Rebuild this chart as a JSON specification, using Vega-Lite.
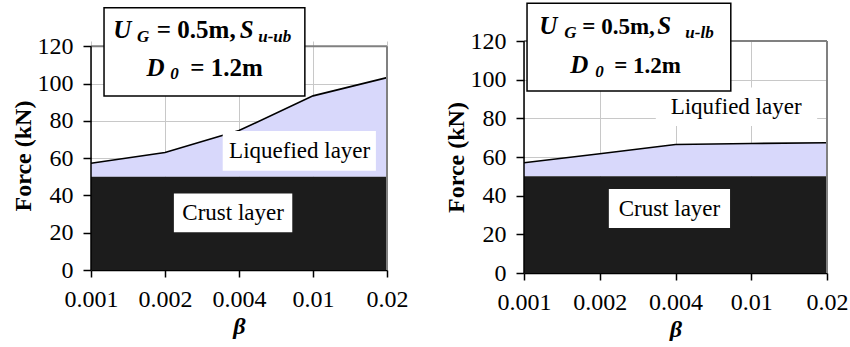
{
  "$schema": "https://vega.github.io/schema/vega-lite/v6.json",
  "padding": {"top": 2, "left": 11, "right": 0, "bottom": 0},
  "background": "white",
  "spacing": 36,
  "config": {
    "view": {"stroke": null},
    "axis": {
      "labelFont": "Liberation Serif", "labelFontSize": 24, "labelColor": "#000", "labelOverlap": false, "labelSeparation": 0,
      "titleFont": "Liberation Serif", "titleFontSize": 24, "titleColor": "#000", "titleFontWeight": "bold",
      "domainColor": "#000", "domainWidth": 1.5, "tickColor": "#000", "tickWidth": 1.5,
      "gridColor": "#c8c8c8", "gridWidth": 1
    },
    "axisX": {"tickSize": 7, "labelPadding": 10, "titlePadding": 3, "titleFontStyle": "italic", "labelFlush": false, "labelBound": false},
    "axisY": {"tickSize": 8, "labelPadding": 10, "titlePadding": 2, "domain": false}
  },
  "datasets": {
    "leftLine": [
      {"i": 0, "beta": "0.001", "total": 57.3, "crust": 50},
      {"i": 1, "beta": "0.002", "total": 63.0, "crust": 50},
      {"i": 2, "beta": "0.004", "total": 74.8, "crust": 50},
      {"i": 3, "beta": "0.01", "total": 93.4, "crust": 50},
      {"i": 4, "beta": "0.02", "total": 103.2, "crust": 50}
    ],
    "rightLine": [
      {"i": 0, "beta": "0.001", "total": 57.0, "crust": 50},
      {"i": 1, "beta": "0.002", "total": 61.7, "crust": 50},
      {"i": 2, "beta": "0.004", "total": 66.5, "crust": 50},
      {"i": 3, "beta": "0.01", "total": 67.0, "crust": 50},
      {"i": 4, "beta": "0.02", "total": 67.4, "crust": 50}
    ],
    "frameTop": [{"x1": 0, "x2": 4, "y": 120}],
    "frameRight": [{"x": 4, "y1": 0, "y2": 120}],
    "frameLeft": [{"x": 0, "y1": 0, "y2": 120}],
    "leftTitleBox": [{"x1": 0.176, "x2": 2.89, "y1": 93.4, "y2": 140.7}],
    "rightTitleBox": [{"x1": 0.04, "x2": 2.73, "y1": 94.1, "y2": 139.5}],
    "leftLabelBoxes": [
      {"x1": 1.78, "x2": 3.85, "y1": 53.2, "y2": 74.6, "xc": 2.82, "yc": 63.6, "label": "Liquefied layer"},
      {"x1": 1.12, "x2": 2.72, "y1": 20.2, "y2": 41.1, "xc": 1.92, "yc": 30.4, "label": "Crust layer"}
    ],
    "rightLabelBoxes": [
      {"x1": 1.74, "x2": 3.87, "y1": 76.0, "y2": 96.0, "xc": 2.80, "yc": 86.0, "label": "Liqufied layer"},
      {"x1": 1.12, "x2": 2.72, "y1": 23.3, "y2": 43.5, "xc": 1.92, "yc": 33.2, "label": "Crust layer"}
    ],
    "leftMain": [
      {"x": 0.30, "y": 124.6, "t": "U"},
      {"x": 2.01, "y": 124.6, "t": "S"},
      {"x": 0.75, "y": 104.1, "t": "D"}
    ],
    "leftSub": [
      {"x": 0.62, "y": 122.5, "t": "G"},
      {"x": 2.26, "y": 122.5, "t": "u-ub"},
      {"x": 1.07, "y": 102.3, "t": "0"}
    ],
    "leftPlain": [
      {"x": 0.89, "y": 124.6, "t": "= 0.5m,"},
      {"x": 1.34, "y": 104.1, "t": "=  1.2m"}
    ],
    "rightMain": [
      {"x": 0.20, "y": 123.5, "t": "U"},
      {"x": 1.76, "y": 123.5, "t": "S"},
      {"x": 0.61, "y": 103.6, "t": "D"}
    ],
    "rightSub": [
      {"x": 0.53, "y": 121.8, "t": "G"},
      {"x": 2.13, "y": 121.8, "t": "u-lb"},
      {"x": 0.94, "y": 101.6, "t": "0"}
    ],
    "rightPlain": [
      {"x": 0.77, "y": 123.5, "t": "= 0.5m,"},
      {"x": 1.19, "y": 103.6, "t": "=  1.2m"}
    ]
  },
  "hconcat": [
    {
      "width": 296,
      "height": 229,
      "layer": [
        {
          "data": {"name": "leftLine"},
          "mark": {"type": "area", "color": "#d8d8fb", "opacity": 1},
          "encoding": {
            "x": {"field": "i", "type": "quantitative", "title": "β",
              "scale": {"domain": [0, 4], "nice": false, "zero": false},
              "axis": {"values": [0, 1, 2, 3, 4], "labelExpr": "['0.001','0.002','0.004','0.01','0.02'][datum.value]", "grid": true, "labelOverlap": false}},
            "y": {"field": "total", "type": "quantitative", "title": "Force (kN)",
              "scale": {"domain": [0, 122.84], "nice": false},
              "axis": {"values": [0, 20, 40, 60, 80, 100, 120], "tickCount": 7, "grid": true, "labelOverlap": false}},
            "y2": {"field": "crust"}
          }
        },
        {
          "data": {"name": "leftLine"},
          "mark": {"type": "area", "color": "#1c1c1c", "opacity": 1},
          "encoding": {
            "x": {"field": "i", "type": "quantitative", "title": "β"},
            "y": {"field": "crust", "type": "quantitative", "title": "Force (kN)"},
            "y2": {"datum": 0}
          }
        },
        {
          "data": {"name": "leftLine"},
          "mark": {"type": "line", "color": "#000", "strokeWidth": 1.6},
          "encoding": {
            "x": {"field": "i", "type": "quantitative", "title": "β"},
            "y": {"field": "total", "type": "quantitative", "title": "Force (kN)"}
          }
        },
        {
          "data": {"name": "frameTop"},
          "mark": {"type": "rule", "color": "#808080", "strokeWidth": 2},
          "encoding": {
            "x": {"field": "x1", "type": "quantitative", "title": "β"},
            "x2": {"field": "x2"},
            "y": {"field": "y", "type": "quantitative", "title": "Force (kN)"}
          }
        },
        {
          "data": {"name": "frameRight"},
          "mark": {"type": "rule", "color": "#808080", "strokeWidth": 2},
          "encoding": {
            "x": {"field": "x", "type": "quantitative", "title": "β"},
            "y": {"field": "y1", "type": "quantitative", "title": "Force (kN)"},
            "y2": {"field": "y2"}
          }
        },
        {
          "data": {"name": "frameLeft"},
          "mark": {"type": "rule", "color": "#000", "strokeWidth": 1.5},
          "encoding": {
            "x": {"field": "x", "type": "quantitative", "title": "β"},
            "y": {"field": "y1", "type": "quantitative", "title": "Force (kN)"},
            "y2": {"field": "y2"}
          }
        },
        {
          "data": {"name": "leftLabelBoxes"},
          "mark": {"type": "rect", "fill": "white"},
          "encoding": {
            "x": {"field": "x1", "type": "quantitative", "title": "β"},
            "x2": {"field": "x2"},
            "y": {"field": "y1", "type": "quantitative", "title": "Force (kN)"},
            "y2": {"field": "y2"}
          }
        },
        {
          "data": {"name": "leftLabelBoxes"},
          "mark": {"type": "text", "font": "Liberation Serif", "color": "#000", "fontSize": 23, "align": "center", "baseline": "middle"},
          "encoding": {
            "x": {"field": "xc", "type": "quantitative", "title": "β"},
            "y": {"field": "yc", "type": "quantitative", "title": "Force (kN)"},
            "text": {"field": "label"}
          }
        },
        {
          "data": {"name": "leftTitleBox"},
          "mark": {"type": "rect", "fill": "white", "stroke": "#000", "strokeWidth": 1.5},
          "encoding": {
            "x": {"field": "x1", "type": "quantitative", "title": "β"},
            "x2": {"field": "x2"},
            "y": {"field": "y1", "type": "quantitative", "title": "Force (kN)"},
            "y2": {"field": "y2"}
          }
        },
        {
          "data": {"name": "leftMain"},
          "mark": {"type": "text", "font": "Liberation Serif", "color": "#000", "fontSize": 25, "fontWeight": "bold", "fontStyle": "italic", "align": "left", "baseline": "alphabetic"},
          "encoding": {
            "x": {"field": "x", "type": "quantitative", "title": "β"},
            "y": {"field": "y", "type": "quantitative", "title": "Force (kN)"},
            "text": {"field": "t"}
          }
        },
        {
          "data": {"name": "leftSub"},
          "mark": {"type": "text", "font": "Liberation Serif", "color": "#000", "fontSize": 17, "fontWeight": "bold", "fontStyle": "italic", "align": "left", "baseline": "alphabetic"},
          "encoding": {
            "x": {"field": "x", "type": "quantitative", "title": "β"},
            "y": {"field": "y", "type": "quantitative", "title": "Force (kN)"},
            "text": {"field": "t"}
          }
        },
        {
          "data": {"name": "leftPlain"},
          "mark": {"type": "text", "font": "Liberation Serif", "color": "#000", "fontSize": 25, "fontWeight": "bold", "align": "left", "baseline": "alphabetic"},
          "encoding": {
            "x": {"field": "x", "type": "quantitative", "title": "β"},
            "y": {"field": "y", "type": "quantitative", "title": "Force (kN)"},
            "text": {"field": "t"}
          }
        }
      ]
    },
    {
      "width": 303,
      "height": 232,
      "layer": [
        {
          "data": {"name": "rightLine"},
          "mark": {"type": "area", "color": "#d8d8fb", "opacity": 1},
          "encoding": {
            "x": {"field": "i", "type": "quantitative", "title": "β",
              "scale": {"domain": [0, 4], "nice": false, "zero": false},
              "axis": {"values": [0, 1, 2, 3, 4], "labelExpr": "['0.001','0.002','0.004','0.01','0.02'][datum.value]", "grid": true, "labelOverlap": false}},
            "y": {"field": "total", "type": "quantitative", "title": "Force (kN)",
              "scale": {"domain": [0, 120], "nice": false},
              "axis": {"values": [0, 20, 40, 60, 80, 100, 120], "tickCount": 7, "grid": true, "labelOverlap": false}},
            "y2": {"field": "crust"}
          }
        },
        {
          "data": {"name": "rightLine"},
          "mark": {"type": "area", "color": "#1c1c1c", "opacity": 1},
          "encoding": {
            "x": {"field": "i", "type": "quantitative", "title": "β"},
            "y": {"field": "crust", "type": "quantitative", "title": "Force (kN)"},
            "y2": {"datum": 0}
          }
        },
        {
          "data": {"name": "rightLine"},
          "mark": {"type": "line", "color": "#000", "strokeWidth": 1.6},
          "encoding": {
            "x": {"field": "i", "type": "quantitative", "title": "β"},
            "y": {"field": "total", "type": "quantitative", "title": "Force (kN)"}
          }
        },
        {
          "data": {"name": "frameTop"},
          "mark": {"type": "rule", "color": "#808080", "strokeWidth": 2},
          "encoding": {
            "x": {"field": "x1", "type": "quantitative", "title": "β"},
            "x2": {"field": "x2"},
            "y": {"field": "y", "type": "quantitative", "title": "Force (kN)"}
          }
        },
        {
          "data": {"name": "frameRight"},
          "mark": {"type": "rule", "color": "#808080", "strokeWidth": 2},
          "encoding": {
            "x": {"field": "x", "type": "quantitative", "title": "β"},
            "y": {"field": "y1", "type": "quantitative", "title": "Force (kN)"},
            "y2": {"field": "y2"}
          }
        },
        {
          "data": {"name": "frameLeft"},
          "mark": {"type": "rule", "color": "#000", "strokeWidth": 1.5},
          "encoding": {
            "x": {"field": "x", "type": "quantitative", "title": "β"},
            "y": {"field": "y1", "type": "quantitative", "title": "Force (kN)"},
            "y2": {"field": "y2"}
          }
        },
        {
          "data": {"name": "rightLabelBoxes"},
          "mark": {"type": "rect", "fill": "white"},
          "encoding": {
            "x": {"field": "x1", "type": "quantitative", "title": "β"},
            "x2": {"field": "x2"},
            "y": {"field": "y1", "type": "quantitative", "title": "Force (kN)"},
            "y2": {"field": "y2"}
          }
        },
        {
          "data": {"name": "rightLabelBoxes"},
          "mark": {"type": "text", "font": "Liberation Serif", "color": "#000", "fontSize": 23, "align": "center", "baseline": "middle"},
          "encoding": {
            "x": {"field": "xc", "type": "quantitative", "title": "β"},
            "y": {"field": "yc", "type": "quantitative", "title": "Force (kN)"},
            "text": {"field": "label"}
          }
        },
        {
          "data": {"name": "rightTitleBox"},
          "mark": {"type": "rect", "fill": "white", "stroke": "#000", "strokeWidth": 1.5},
          "encoding": {
            "x": {"field": "x1", "type": "quantitative", "title": "β"},
            "x2": {"field": "x2"},
            "y": {"field": "y1", "type": "quantitative", "title": "Force (kN)"},
            "y2": {"field": "y2"}
          }
        },
        {
          "data": {"name": "rightMain"},
          "mark": {"type": "text", "font": "Liberation Serif", "color": "#000", "fontSize": 25, "fontWeight": "bold", "fontStyle": "italic", "align": "left", "baseline": "alphabetic"},
          "encoding": {
            "x": {"field": "x", "type": "quantitative", "title": "β"},
            "y": {"field": "y", "type": "quantitative", "title": "Force (kN)"},
            "text": {"field": "t"}
          }
        },
        {
          "data": {"name": "rightSub"},
          "mark": {"type": "text", "font": "Liberation Serif", "color": "#000", "fontSize": 17, "fontWeight": "bold", "fontStyle": "italic", "align": "left", "baseline": "alphabetic"},
          "encoding": {
            "x": {"field": "x", "type": "quantitative", "title": "β"},
            "y": {"field": "y", "type": "quantitative", "title": "Force (kN)"},
            "text": {"field": "t"}
          }
        },
        {
          "data": {"name": "rightPlain"},
          "mark": {"type": "text", "font": "Liberation Serif", "color": "#000", "fontSize": 23, "fontWeight": "bold", "align": "left", "baseline": "alphabetic"},
          "encoding": {
            "x": {"field": "x", "type": "quantitative", "title": "β"},
            "y": {"field": "y", "type": "quantitative", "title": "Force (kN)"},
            "text": {"field": "t"}
          }
        }
      ]
    }
  ]
}
